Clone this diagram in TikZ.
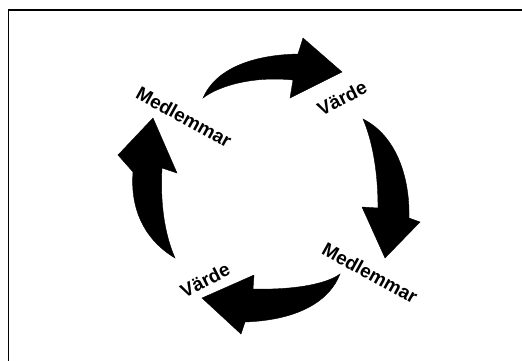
\documentclass[tikz,border=0pt]{standalone}
\usepackage{fontspec}
\setmainfont{Liberation Sans}
\usetikzlibrary{calc}
\def\lblsize{19}

\begin{document}
\begin{tikzpicture}[x=1pt,y=-1pt]
    \tikzset{%
      bigarrow/.style={fill=black, draw=black, line join=miter},
      lbl/.style={font=\fontsize{\lblsize}{\lblsize}\selectfont\bfseries, inner sep=0pt}}

    \useasboundingbox (0,0) rectangle (522,360);
    % frame, only top and left edge show
    \draw[line width=1.3pt] (530,10) -- (8.5,10) -- (8.5,370);

    % labels round the cycle
    \node[lbl, rotate=-29] (m1) at (184,117) {Medlemmar};
    \node[lbl, rotate=27]  (v1) at (342,98)  {Värde};
    \node[lbl, rotate=-29] (m2) at (370,273) {Medlemmar};
    \node[lbl, rotate=27]  (v2) at (205,280) {Värde};

    % top arrow, Medlemmar to Värde
    \fill[bigarrow] (203,98) .. controls (215,70) and (250,55) .. (298,54)
      -- (303,38) -- (342,72) -- (290,98) -- (293,80)
      .. controls (255,76) and (220,85) .. cycle;

    % right arrow, Värde to Medlemmar
    \fill[bigarrow] (363,119) .. controls (395,135) and (410,175) .. (409,218)
      -- (420,222) -- (385,258) -- (362,207) -- (378,208)
      .. controls (378,170) and (372,140) .. cycle;

    % bottom arrow, Medlemmar to Värde
    \fill[bigarrow] (340,274) .. controls (330,300) and (300,320) .. (245,322)
      -- (241,334) -- (202,298) -- (254,275) -- (253,289)
      .. controls (290,290) and (325,285) .. cycle;

    % left arrow, Värde to Medlemmar
    \fill[bigarrow] (175,258) .. controls (145,240) and (130,210) .. (133,172)
      -- (118,155) -- (153,118) -- (177,173) -- (162,168)
      .. controls (160,205) and (165,235) .. cycle;
  \end{tikzpicture}
\end{document}
